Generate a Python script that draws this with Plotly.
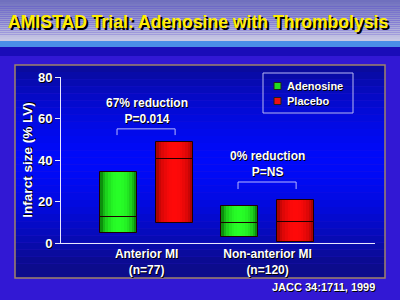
import plotly.graph_objects as go

# ---------------- data ----------------
categories = ["Anterior MI<br>(n=77)", "Non-anterior MI<br>(n=120)"]
series_names = ["Adenosine", "Placebo"]
adenosine_low = [5, 3]
adenosine_median = [12.5, 9.5]
adenosine_high = [34, 18]
placebo_low = [9.5, 0.5]
placebo_median = [40.5, 10]
placebo_high = [48.5, 20.5]
annot_texts = ["67% reduction<br>P=0.014", "0% reduction<br>P=NS"]
y_ticks = [0, 20, 40, 60, 80]

# ---------------- layout geometry ----------------
W, H = 400, 300
L, R, T, B = 61, 25, 77, 57
PW, PH = W - L - R, H - T - B
FONT = "Liberation Sans, Arial, sans-serif"
SHADOW = "1px 1px 0px #000000"


def px_to_paper_x(px):
    return (px - L) / PW


def py_to_paper_y(py):
    return (H - B - py) / PH


fig = go.Figure()

bar_w = 0.306
offsets = [-0.384, 0.078]
N = 14


def shade(base_dark, base_bright, t):
    # cylinder-like profile: dark edges, bright centre
    f = 1 - (2 * t - 1) ** 2
    f = f ** 0.6
    return "rgb(%d,%d,%d)" % tuple(
        int(d + (b - d) * f) for d, b in zip(base_dark, base_bright)
    )


series = [
    (series_names[0], adenosine_low, adenosine_median, adenosine_high, (0, 95, 0), (40, 255, 40), "#22dd22"),
    (series_names[1], placebo_low, placebo_median, placebo_high, (135, 0, 0), (255, 10, 10), "#ee1111"),
]
x_idx = list(range(len(categories)))

for si, (name, low, med, high, dark, bright, legc) in enumerate(series):
    off = offsets[si]
    sw = bar_w / N
    heights = [h - l for h, l in zip(high, low)]
    for k in range(N):
        t = (k + 0.5) / N
        fig.add_trace(go.Bar(
            x=x_idx, y=heights, base=low, offset=off + k * sw, width=sw * 1.02,
            marker=dict(color=shade(dark, bright, t), line=dict(width=0)),
            showlegend=False, hoverinfo="skip", name=name,
        ))
    # outlines: lower segment and upper segment (median line)
    fig.add_trace(go.Bar(
        x=x_idx, y=[m - l for m, l in zip(med, low)], base=low, offset=off, width=bar_w,
        marker=dict(color="rgba(0,0,0,0)", line=dict(color="#200000", width=1)),
        showlegend=False, hoverinfo="skip",
    ))
    fig.add_trace(go.Bar(
        x=x_idx, y=[h - m for h, m in zip(high, med)], base=med, offset=off, width=bar_w,
        marker=dict(color="rgba(0,0,0,0)", line=dict(color="#200000", width=1)),
        showlegend=False, hoverinfo="skip",
    ))

shapes = []
# title banner gradient
band_top, band_bot = 0, 41
nb = 20
for i in range(nb):
    y0 = band_top + (band_bot - band_top) * i / nb
    y1 = band_top + (band_bot - band_top) * (i + 1) / nb
    t = i / (nb - 1)
    c = (int(112 + (200 - 112) * t), int(112 + (200 - 112) * t), int(190 + (228 - 190) * t))
    shapes.append(dict(type="rect", xref="paper", yref="paper",
                       x0=px_to_paper_x(0), x1=px_to_paper_x(W),
                       y0=py_to_paper_y(y1), y1=py_to_paper_y(y0),
                       fillcolor="rgb(%d,%d,%d)" % c, line=dict(width=0), layer="below"))
shapes.append(dict(type="rect", xref="paper", yref="paper",
                   x0=px_to_paper_x(0), x1=px_to_paper_x(W),
                   y0=py_to_paper_y(47), y1=py_to_paper_y(41),
                   fillcolor="#4a8ee8", line=dict(width=0), layer="below"))
shapes.append(dict(type="rect", xref="paper", yref="paper",
                   x0=px_to_paper_x(0), x1=px_to_paper_x(W),
                   y0=py_to_paper_y(56), y1=py_to_paper_y(47),
                   fillcolor="#1a0cb8", line=dict(width=0), layer="below"))

# panel gradient
p_top, p_bot = 65, 278
npn = 30
for i in range(npn):
    y0 = p_top + (p_bot - p_top) * i / npn
    y1 = p_top + (p_bot - p_top) * (i + 1) / npn
    t = i / (npn - 1)
    f = 1 - abs(2 * (t - 0.45)) ** 1.6
    f = max(0.0, min(1.0, f))
    c = (int(12 + (0 - 12) * f), int(12 + (10 - 12) * f), int(140 + (250 - 140) * f))
    shapes.append(dict(type="rect", xref="paper", yref="paper",
                       x0=px_to_paper_x(15), x1=px_to_paper_x(385),
                       y0=py_to_paper_y(y1), y1=py_to_paper_y(y0),
                       fillcolor="rgb(%d,%d,%d)" % c, line=dict(width=0), layer="below"))
shapes.append(dict(type="rect", xref="paper", yref="paper",
                   x0=px_to_paper_x(15), x1=px_to_paper_x(385),
                   y0=py_to_paper_y(278), y1=py_to_paper_y(65),
                   fillcolor="rgba(0,0,0,0)", line=dict(color="#a08468", width=1.5), layer="below"))

# brackets over each group
bracket_y = [(55, 52), (29.4, 26)]
for ci in x_idx:
    xl, xr = ci - 0.244, ci + 0.236
    yt, yb = bracket_y[ci]
    shapes.append(dict(type="path", xref="x", yref="y",
                       path=f"M {xl},{yb} L {xl},{yt} L {xr},{yt} L {xr},{yb}",
                       line=dict(color="#b8b8ff", width=1)))

annotations = []
annot_y = [63.5, 38.3]
for ci in x_idx:
    annotations.append(dict(x=ci, y=annot_y[ci], xref="x", yref="y", text="<b>%s</b>" % annot_texts[ci],
                            showarrow=False, font=dict(family=FONT, size=12, color="white", shadow=SHADOW),
                            align="center"))

# manual legend (box, swatches, labels)
shapes.append(dict(type="rect", xref="paper", yref="paper",
                   x0=px_to_paper_x(263), x1=px_to_paper_x(353),
                   y0=py_to_paper_y(113), y1=py_to_paper_y(73),
                   fillcolor="rgba(0,0,0,0)", line=dict(color="#b8b8f0", width=1)))
leg_cols = ["#22dd22", "#ee1111"]
leg_y = [86, 101]
for i, nm in enumerate(series_names):
    shapes.append(dict(type="rect", xref="paper", yref="paper",
                       x0=px_to_paper_x(274), x1=px_to_paper_x(281),
                       y0=py_to_paper_y(leg_y[i] + 3.5), y1=py_to_paper_y(leg_y[i] - 3.5),
                       fillcolor=leg_cols[i], line=dict(color="#202020", width=1)))
    annotations.append(dict(x=px_to_paper_x(285), y=py_to_paper_y(leg_y[i]), xref="paper", yref="paper",
                            text="<b>%s</b>" % nm, showarrow=False, xanchor="left", yanchor="middle",
                            font=dict(family=FONT, size=11, color="white", shadow=SHADOW)))

# title with drop shadow
title_text = "<b>AMISTAD Trial: Adenosine with Thrombolysis</b>"
annotations.append(dict(x=px_to_paper_x(198), y=py_to_paper_y(22), xref="paper", yref="paper",
                        text=title_text, showarrow=False, xanchor="center", yanchor="middle",
                        font=dict(family=FONT, size=17.6, color="#ffee00",
                                  shadow="2px 2px 0px #000000")))

# footer
annotations.append(dict(x=px_to_paper_x(377), y=py_to_paper_y(287), xref="paper", yref="paper",
                        text="<b>JACC 34:1711, 1999</b>", showarrow=False, xanchor="right", yanchor="middle",
                        font=dict(family=FONT, size=11, color="white", shadow=SHADOW)))

fig.update_layout(
    width=W, height=H,
    margin=dict(l=L, r=R, t=T, b=B, pad=0),
    paper_bgcolor="#3218d4",
    plot_bgcolor="rgba(0,0,0,0)",
    barmode="overlay",
    bargap=0,
    showlegend=False,
    font=dict(family=FONT, color="white"),
    shapes=shapes,
    annotations=annotations,
    xaxis=dict(
        range=[-0.707, 1.888], tickvals=x_idx, ticktext=["<b>%s</b>" % c for c in categories],
        showgrid=False, zeroline=False, showline=True, linecolor="#e8e8ff", linewidth=1,
        ticks="", tickfont=dict(family=FONT, size=12, color="white", shadow=SHADOW),
        fixedrange=True,
    ),
    yaxis=dict(
        range=[0, 80], tickvals=y_ticks, showgrid=False, zeroline=False,
        showline=True, linecolor="#e8e8ff", linewidth=1,
        ticks="outside", ticklen=5, tickcolor="#e8e8ff",
        tickfont=dict(family=FONT, size=13, color="white", weight="bold", shadow=SHADOW),
        title=dict(text="<b>Infarct size (% LV)</b>", standoff=2,
                   font=dict(family=FONT, size=13.5, color="white", shadow=SHADOW)),
        fixedrange=True,
    ),
)

fig.write_html("out.html")
